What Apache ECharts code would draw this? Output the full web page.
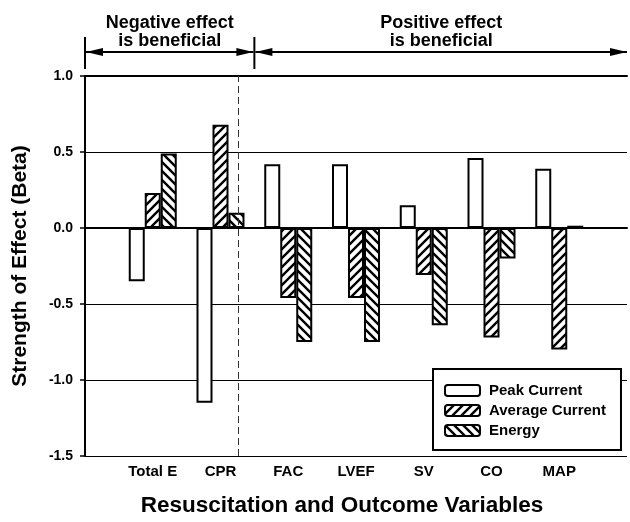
<!DOCTYPE html>
<html>
<head>
<meta charset="utf-8">
<script src="https://cdn.jsdelivr.net/npm/echarts@6/dist/echarts.min.js"></script>
<style>
  html, body { margin: 0; padding: 0; background: #fff; }
  #chart { width: 630px; height: 522px; }
</style>
</head>
<body>
<div id="chart"></div>
<script>
// Regression coefficients (beta) per resuscitation / outcome variable
const categories = ['Total E', 'CPR', 'FAC', 'LVEF', 'SV', 'CO', 'MAP'];
const peakCurrent = [-0.35, -1.15, 0.42, 0.42, 0.15, 0.46, 0.39];
const averageCurrent = [0.23, 0.68, -0.46, -0.46, -0.31, -0.72, -0.80];
const energy = [0.49, 0.10, -0.75, -0.75, -0.64, -0.20, 0.015];
const seriesNames = ['Peak Current', 'Average Current', 'Energy'];
const yTicks = [-1.5, -1.0, -0.5, 0.0, 0.5, 1.0];
// The first two variables: negative effect is beneficial; the rest: positive
const negativeGroupSize = 2;
const groupTexts = ['Negative effect\nis beneficial', 'Positive effect\nis beneficial'];

const FONT = "'Liberation Sans', Arial, Helvetica, sans-serif";

// Diagonal hatch tiles: dir 1 = '/', dir -1 = '\'
function hatch(dir) {
  const s = 9;
  const c = document.createElement('canvas');
  c.width = s; c.height = s;
  const g = c.getContext('2d');
  g.fillStyle = '#fff';
  g.fillRect(0, 0, s, s);
  g.strokeStyle = '#000';
  g.lineWidth = 2.4;
  g.beginPath();
  if (dir > 0) {
    g.moveTo(-2, s + 2); g.lineTo(s + 2, -2);
    g.moveTo(-2, 2); g.lineTo(2, -2);
    g.moveTo(s - 2, s + 2); g.lineTo(s + 2, s - 2);
  } else {
    g.moveTo(-2, -2); g.lineTo(s + 2, s + 2);
    g.moveTo(s - 2, -2); g.lineTo(s + 2, 2);
    g.moveTo(-2, s - 2); g.lineTo(2, s + 2);
  }
  g.stroke();
  return { image: c, repeat: 'repeat' };
}

const fills = ['#fff', hatch(1), hatch(-1)];
const values = [peakCurrent, averageCurrent, energy];

const chart = echarts.init(document.getElementById('chart'), null, { renderer: 'canvas' });

const series = seriesNames.map((name, si) => ({
  name: name,
  type: 'bar',
  barWidth: 16,
  barGap: '0%',
  data: values[si].map((v, i) => [i + 1, v]),
  itemStyle: { color: fills[si], borderColor: '#000', borderWidth: 2 },
  emphasis: { disabled: true },
  silent: true,
  z: 3
}));

// dashed divider between the two variable groups
series[0].markLine = {
  silent: true,
  symbol: 'none',
  label: { show: false },
  lineStyle: { type: [7, 4], color: '#333', width: 1 },
  data: [{ xAxis: negativeGroupSize + 0.5 }]
};

chart.setOption({
  backgroundColor: '#fff',
  animation: false,
  grid: { left: 85, right: -2, top: 76, bottom: 62 },
  legend: {
    data: seriesNames,
    orient: 'vertical',
    left: 433,
    top: 369,
    padding: [14, 15, 12, 11],
    itemWidth: 35,
    itemHeight: 11,
    itemGap: 5,
    backgroundColor: '#fff',
    borderColor: '#000',
    borderWidth: 2,
    borderRadius: 0,
    selectedMode: false,
    textStyle: { fontFamily: FONT, fontSize: 15, fontWeight: 'bold', color: '#000', padding: [0, 0, 0, 4] }
  },
  xAxis: [{
    type: 'value',
    min: 0,
    max: categories.length + 1,
    interval: 1,
    position: 'bottom',
    axisLine: { show: true, lineStyle: { color: '#000', width: 2 } },
    axisTick: { show: false },
    splitLine: { show: false },
    axisLabel: {
      margin: 8,
      fontFamily: FONT, fontSize: 15, fontWeight: 'bold', color: '#000',
      formatter: v => categories[v - 1] || ''
    },
    name: 'Resuscitation and Outcome Variables',
    nameLocation: 'middle',
    nameGap: 38,
    nameTextStyle: { fontFamily: FONT, fontSize: 22.5, fontWeight: 'bold', color: '#000', padding: [0, 28, 0, 0] }
  }, {
    type: 'value',
    min: 0,
    max: categories.length + 1,
    position: 'top',
    axisLine: { show: true, lineStyle: { color: '#000', width: 2 } },
    axisTick: { show: false },
    axisLabel: { show: false },
    splitLine: { show: false }
  }],
  yAxis: {
    type: 'value',
    min: yTicks[0],
    max: yTicks[yTicks.length - 1],
    interval: yTicks[1] - yTicks[0],
    axisLine: { show: true, lineStyle: { color: '#000', width: 2 } },
    axisTick: { show: true, length: 5, inside: false, lineStyle: { color: '#000', width: 1.5 } },
    splitLine: { show: true, lineStyle: { color: '#000', width: 1 } },
    axisLabel: {
      margin: 12,
      fontFamily: FONT, fontSize: 14, fontWeight: 'bold', color: '#000',
      formatter: v => v.toFixed(1)
    },
    name: 'Strength of Effect (Beta)',
    nameLocation: 'middle',
    nameRotate: 90,
    nameGap: 54,
    nameTextStyle: { fontFamily: FONT, fontSize: 21, fontWeight: 'bold', color: '#000' }
  },
  series: series
});

// Group headers with double-headed arrows above the plot
function drawHeaders() {
  const W = chart.getWidth();
  const xLeft = chart.convertToPixel({ xAxisIndex: 0 }, 0);
  const xDiv = chart.convertToPixel({ xAxisIndex: 0 }, negativeGroupSize + 0.5);
  const xRight = Math.min(chart.convertToPixel({ xAxisIndex: 0 }, categories.length + 1), W - 1);
  const yArrow = 52;
  const yTickTop = 37, yTickBottom = 69;
  const headLen = 17, headHalf = 4;
  const els = [];
  const line = (x1, y1, x2, y2) => ({
    type: 'line', silent: true,
    shape: { x1, y1, x2, y2 },
    style: { stroke: '#000', lineWidth: 2 }
  });
  const head = (xTip, dir) => ({
    type: 'polygon', silent: true,
    shape: { points: [[xTip, yArrow], [xTip + dir * headLen, yArrow - headHalf], [xTip + dir * headLen, yArrow + headHalf]] },
    style: { fill: '#000' }
  });
  els.push(line(xLeft, yTickTop, xLeft, yTickBottom));
  els.push(line(xDiv, yTickTop, xDiv, yTickBottom));
  [[xLeft + 1, xDiv - 1], [xDiv + 1, xRight]].forEach(([a, b], k) => {
    els.push(line(a, yArrow, b, yArrow));
    els.push(head(a, 1));
    els.push(head(b, -1));
    els.push({
      type: 'text', silent: true,
      x: (a + b) / 2, y: 32,
      style: {
        text: groupTexts[k],
        fontFamily: FONT, fontSize: 18, fontWeight: 'bold', fill: '#000',
        align: 'center', verticalAlign: 'middle', lineHeight: 18.5
      }
    });
  });
  chart.setOption({ graphic: { elements: els } });
}
drawHeaders();
</script>
</body>
</html>
